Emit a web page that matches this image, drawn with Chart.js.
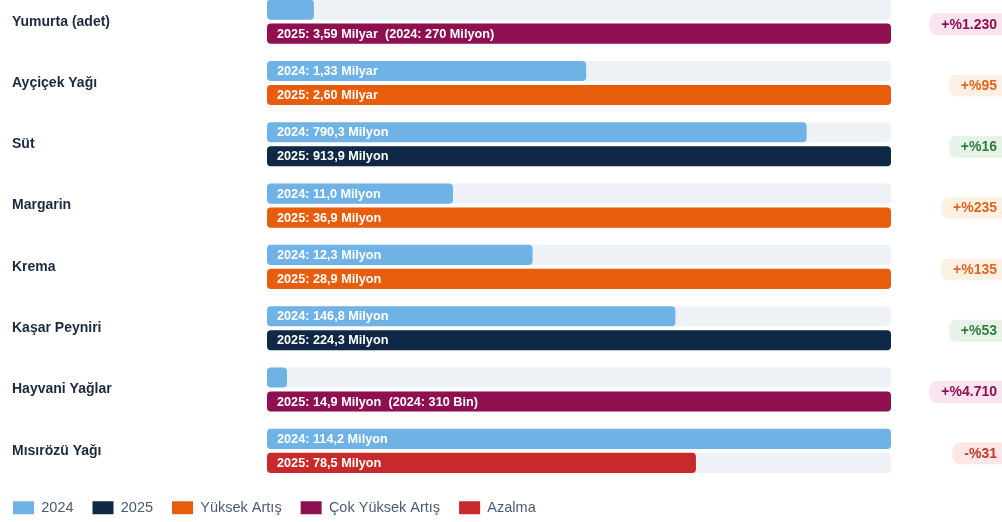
<!DOCTYPE html>
<html lang="tr">
<head>
<meta charset="utf-8">
<title>Gıda üretimi 2024 - 2025</title>
<script src="https://cdn.jsdelivr.net/npm/chart.js@4.4.1/dist/chart.umd.min.js"></script>
<style>
    html, body { margin: 0; padding: 0; background: #fff; overflow: hidden; }
    #wrap { position: relative; width: 1002px; height: 522px; overflow: hidden; }
    #wrap canvas { position: absolute; left: 0; top: -9px; }
</style>
</head>
<body>
<div id="wrap"><canvas id="uretimChart" width="1002" height="534"></canvas></div>
<script>
// Kategoriler ve değerler (milyon cinsinden)
const categories = ['Yumurta (adet)', 'Ayçiçek Yağı', 'Süt', 'Margarin', 'Krema', 'Kaşar Peyniri', 'Hayvani Yağlar', 'Mısırözü Yağı'];
const values2024 = [270, 1330, 790.3, 11.0, 12.3, 146.8, 0.31, 114.2];
const values2025 = [3590, 2600, 913.9, 36.9, 28.9, 224.3, 14.9, 78.5];

// Bar içi etiketler
const labels2024 = ['', '2024: 1,33 Milyar', '2024: 790,3 Milyon', '2024: 11,0 Milyon', '2024: 12,3 Milyon', '2024: 146,8 Milyon', '', '2024: 114,2 Milyon'];
const labels2025 = ['2025: 3,59 Milyar  (2024: 270 Milyon)', '2025: 2,60 Milyar', '2025: 913,9 Milyon', '2025: 36,9 Milyon', '2025: 28,9 Milyon', '2025: 224,3 Milyon', '2025: 14,9 Milyon  (2024: 310 Bin)', '2025: 78,5 Milyon'];

// Değişim oranları
const changeLabels = ['+%1.230', '+%95', '+%16', '+%235', '+%135', '+%53', '+%4.710', '-%31'];
const changeTypes = ['cok', 'yuksek', 'normal', 'yuksek', 'yuksek', 'normal', 'cok', 'azalma'];

const COLORS = {
    y2024: '#6fb3e6',
    normal: '#0f2846',
    yuksek: '#e85d0c',
    cok: '#8e1050',
    azalma: '#c8292b',
    track: '#eef1f6'
};

const BADGE = {
    cok: { bg: '#fae4ee', fg: '#8e1050' },
    yuksek: { bg: '#fdf1e4', fg: '#e0651f' },
    normal: { bg: '#e7f3e8', fg: '#2f7d3b' },
    azalma: { bg: '#fbe7e7', fg: '#c0392b' }
};

const FONT = '"Liberation Sans", Arial, Helvetica, sans-serif';

// Her kategoride büyük değer = %100
const share2024 = values2024.map((v, i) => v / Math.max(v, values2025[i]) * 100);
const share2025 = values2025.map((v, i) => v / Math.max(v, values2024[i]) * 100);

// Gri arka plan izleri
const trackPlugin = {
    id: 'tracks',
    beforeDatasetsDraw(chart) {
        const ctx = chart.ctx;
        const area = chart.chartArea;
        ctx.save();
        ctx.fillStyle = COLORS.track;
        chart.data.datasets.forEach(function(ds, d) {
            chart.getDatasetMeta(d).data.forEach(function(el) {
                ctx.beginPath();
                ctx.roundRect(area.left, el.y - el.height / 2, area.right - area.left, el.height, 4);
                ctx.fill();
            });
        });
        ctx.restore();
    }
};

// Bar içi yazılar
const barTextPlugin = {
    id: 'barText',
    afterDatasetsDraw(chart) {
        const ctx = chart.ctx;
        const x0 = chart.scales.x.getPixelForValue(0);
        ctx.save();
        ctx.font = 'bold 12.7px ' + FONT;
        ctx.fillStyle = '#ffffff';
        ctx.textAlign = 'left';
        ctx.textBaseline = 'middle';
        [labels2024, labels2025].forEach(function(texts, d) {
            chart.getDatasetMeta(d).data.forEach(function(el, i) {
                if (texts[i]) {
                    ctx.fillText(texts[i], x0 + 10, el.y + 0.5);
                }
            });
        });
        ctx.restore();
    }
};

// Sağdaki değişim rozetleri
const badgePlugin = {
    id: 'badges',
    afterDraw(chart) {
        const ctx = chart.ctx;
        const yScale = chart.scales.y;
        const textRight = chart.width - 5;
        ctx.save();
        ctx.font = 'bold 14px ' + FONT;
        ctx.textAlign = 'right';
        ctx.textBaseline = 'middle';
        changeLabels.forEach(function(text, i) {
            const style = BADGE[changeTypes[i]];
            const y = yScale.getPixelForValue(i) + 2.5;
            const w = ctx.measureText(text).width;
            ctx.fillStyle = style.bg;
            ctx.beginPath();
            ctx.roundRect(textRight - w - 12, y - 11, w + 24, 22, 8);
            ctx.fill();
            ctx.fillStyle = style.fg;
            ctx.fillText(text, textRight, y + 0.5);
        });
        ctx.restore();
    }
};

// Lejant sol kenara hizalansın
const legendShiftPlugin = {
    id: 'legendShift',
    afterLayout(chart) {
        if (chart.legend) {
            chart.legend.left = 13 - chart.legend.options.labels.padding;
        }
    }
};

const legendItems = [
    { text: '2024', color: COLORS.y2024 },
    { text: '2025', color: COLORS.normal },
    { text: 'Yüksek Artış', color: COLORS.yuksek },
    { text: 'Çok Yüksek Artış', color: COLORS.cok },
    { text: 'Azalma', color: COLORS.azalma }
];

new Chart(document.getElementById('uretimChart'), {
    type: 'bar',
    data: {
        labels: categories,
        datasets: [{
            label: '2024',
            data: share2024,
            backgroundColor: COLORS.y2024,
            minBarLength: 20
        }, {
            label: '2025',
            data: share2025,
            backgroundColor: changeTypes.map(t => COLORS[t])
        }]
    },
    options: {
        indexAxis: 'y',
        responsive: false,
        animation: false,
        events: [],
        datasets: {
            bar: {
                categoryPercentage: 0.782,
                barPercentage: 0.84,
                borderRadius: 4,
                borderSkipped: false
            }
        },
        layout: {
            padding: { left: 12, right: 111, top: 0, bottom: 0 }
        },
        scales: {
            x: {
                display: false,
                min: 0,
                max: 100
            },
            y: {
                grid: { display: false },
                border: { display: false },
                ticks: {
                    crossAlign: 'far',
                    color: '#1b2a41',
                    font: { family: FONT, size: 14, weight: 'bold' }
                },
                afterFit: function(scale) {
                    scale.width = 255;
                    scale.paddingTop = 0;
                    scale.paddingBottom = 0;
                }
            }
        },
        plugins: {
            tooltip: { enabled: false },
            legend: {
                position: 'bottom',
                align: 'start',
                labels: {
                    boxWidth: 21,
                    boxHeight: 13,
                    padding: 19,
                    useBorderRadius: true,
                    borderRadius: 3,
                    color: '#4b5b73',
                    font: { family: FONT, size: 14.5 },
                    generateLabels: function() {
                        return legendItems.map(function(item) {
                            return {
                                text: item.text,
                                fillStyle: item.color,
                                strokeStyle: item.color,
                                lineWidth: 0,
                                fontColor: '#4b5b73',
                                hidden: false
                            };
                        });
                    }
                }
            }
        }
    },
    plugins: [trackPlugin, barTextPlugin, badgePlugin, legendShiftPlugin]
});
</script>
</body>
</html>
